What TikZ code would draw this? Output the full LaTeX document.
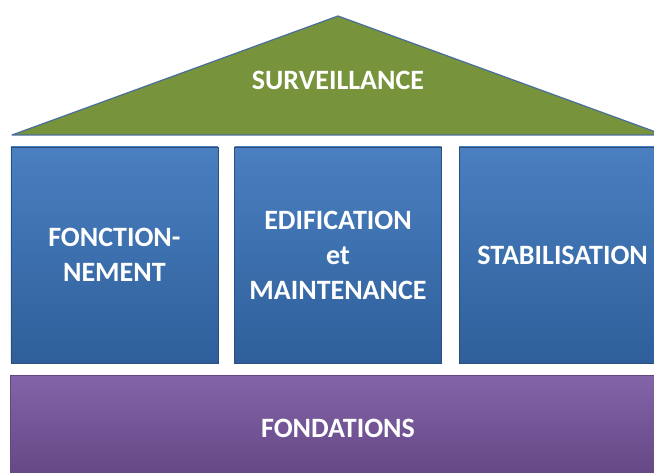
\documentclass[tikz,border=0pt]{standalone}
\usepackage{fontspec}
\setmainfont{Carlito}
\usepackage{tikz}
\usetikzlibrary{positioning}
\definecolor{roofgreen}{HTML}{77933C}
\definecolor{roofline}{HTML}{4A6E9C}
\definecolor{pillartop}{HTML}{4A7FC0}
\definecolor{pillarbot}{HTML}{2E5F9A}
\definecolor{pillarline}{HTML}{2A4F7E}
\definecolor{fondtop}{HTML}{8364A8}
\definecolor{fondbot}{HTML}{634683}
\tikzstyle{label} = [text=white, font=\bfseries\fontsize{28}{35}\selectfont, align=center]
\tikzstyle{pillar} = [rectangle, minimum width=207pt, minimum height=216pt, inner sep=0pt, top color=pillartop, bottom color=pillarbot, draw=pillarline, line width=0.6pt, label]
\tikzstyle{base} = [rectangle, minimum width=656pt, minimum height=106pt, inner sep=0pt, top color=fondtop, bottom color=fondbot, draw=fondbot, line width=0.6pt, label]
\tikzstyle{roof} = [fill=roofgreen, draw=roofline, line width=1.2pt, line join=round]

\begin{document}
\begin{tikzpicture}[x=1pt,y=-1pt]
		\useasboundingbox (0,0) rectangle (654,473);
		\clip (0,0) rectangle (654,473);
		\draw [roof] (12,135) -- (338,16) -- (664,135) -- cycle;
		\node (surv) [label] at (338,80) {SURVEILLANCE};
		\node (edif) [pillar] at (338,255) {EDIFICATION\\et\\MAINTENANCE};
		\node (fonct) [pillar,left=16pt of edif] {FONCTION-\\NEMENT};
		\node (stab) [pillar,right=17pt of edif] {STABILISATION};
		\node (fond) [base,below=12pt of edif] {FONDATIONS};
	\end{tikzpicture}
\end{document}
